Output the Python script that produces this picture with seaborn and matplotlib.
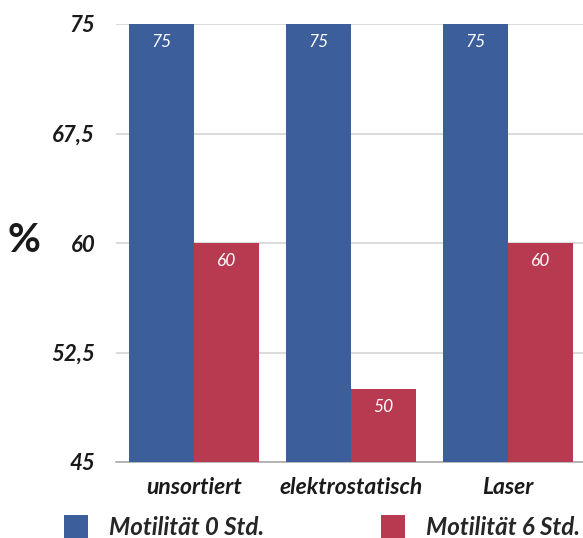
import matplotlib
matplotlib.use("Agg")
import matplotlib.pyplot as plt
import seaborn as sns
import pandas as pd

categories = ["unsortiert", "elektrostatisch", "Laser"]
motility_0h = [75, 75, 75]
motility_6h = [60, 50, 60]
series_names = ["Motilität 0 Std.", "Motilität 6 Std."]
y_ticks = [45, 52.5, 60, 67.5, 75]
y_tick_labels = ["45", "52,5", "60", "67,5", "75"]

df = pd.DataFrame({
    "Kategorie": categories * 2,
    "Wert": motility_0h + motility_6h,
    "Serie": [series_names[0]] * 3 + [series_names[1]] * 3,
})

sns.set_theme(style="white")
plt.rcParams["font.family"] = ["Lato", "DejaVu Sans"]

blue = "#3c5f9c"
red = "#b73a50"

fig = plt.figure(figsize=(5.83, 5.38), dpi=100)
ax = fig.add_axes([116 / 583, 1 - 462 / 538, 1 - 116 / 583, 438 / 538])

sns.barplot(data=df, x="Kategorie", y="Wert", hue="Serie",
            palette=[blue, red], width=0.83, saturation=1,
            linewidth=0, edgecolor="none",
            ax=ax, legend=True, zorder=3)

ax.set_ylim(45, 75)
ax.set_xlim(-0.5, 2.48)
ax.set_yticks(y_ticks)
ax.set_yticklabels(y_tick_labels)
ax.yaxis.grid(True, color="#d4d4d4", linewidth=1.2, zorder=0)
ax.set_axisbelow(True)
for s in ["top", "right", "left"]:
    ax.spines[s].set_visible(False)
ax.spines["bottom"].set_color("#aaaaaa")
ax.spines["bottom"].set_linewidth(1.2)
ax.tick_params(axis="both", length=0)
ax.tick_params(axis="y", pad=15)
ax.tick_params(axis="x", pad=11)
for lbl in ax.get_yticklabels():
    lbl.set_fontsize(16)
    lbl.set_fontweight("bold")
    lbl.set_fontstyle("italic")
    lbl.set_color("#1a1a1a")
for lbl in ax.get_xticklabels():
    lbl.set_fontsize(16.5)
    lbl.set_fontweight("bold")
    lbl.set_fontstyle("italic")
    lbl.set_color("#1a1a1a")
ax.set_xlabel("")
ax.set_ylabel("")

for cont in ax.containers:
    ax.bar_label(cont, labels=[f"{v:g}" for v in cont.datavalues],
                 label_type="edge", padding=-19, color="white",
                 fontsize=12.5, fontstyle="italic")

fig.text(24 / 583, 1 - 240 / 538, "%", fontsize=29, fontweight="bold",
         ha="center", va="center", color="#1a1a1a")

handles, labels = ax.get_legend_handles_labels()
ax.get_legend().remove()
fig.legend(handles, labels, loc="center left",
           bbox_to_anchor=(64 / 583, 1 - 527 / 538), ncol=2, frameon=False,
           borderpad=0, borderaxespad=0,
           handlelength=1.0, handleheight=1.1, handletextpad=0.85,
           columnspacing=4.85,
           prop={"size": 17.4, "weight": "bold", "style": "italic"})

fig.savefig("out.png", dpi=100, facecolor="white")
